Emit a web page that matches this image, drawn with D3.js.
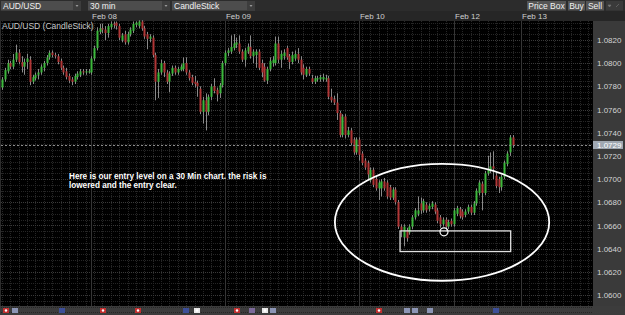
<!DOCTYPE html>
<html><head><meta charset="utf-8">
<script src="https://cdn.jsdelivr.net/npm/d3@7"></script>
<style>html,body{margin:0;padding:0;background:#000;overflow:hidden}svg{display:block}text{font-family:"Liberation Sans",Arial,sans-serif}</style>
</head><body><svg id="c" width="625" height="315"></svg>
<script>
// ---- data (AUD/USD 30 min candles) ----
const open=[1.0779,1.0786,1.0793,1.0800,1.0797,1.0803,1.0809,1.0801,1.0797,1.0801,
1.0803,1.0784,1.0787,1.0790,1.0792,1.0796,1.0800,1.0805,1.0809,1.0807,
1.0806,1.0802,1.0796,1.0793,1.0789,1.0786,1.0784,1.0788,1.0790,1.0793,
1.0792,1.0792,1.0792,1.0804,1.0813,1.0827,1.0830,1.0829,1.0826,1.0831,
1.0834,1.0835,1.0832,1.0820,1.0825,1.0818,1.0825,1.0828,1.0833,1.0832,
1.0836,1.0830,1.0825,1.0821,1.0822,1.0807,1.0784,1.0792,1.0800,1.0792,
1.0784,1.0791,1.0796,1.0792,1.0794,1.0795,1.0800,1.0792,1.0788,1.0784,
1.0783,1.0778,1.0758,1.0768,1.0758,1.0771,1.0780,1.0777,1.0774,1.0781,
1.0800,1.0809,1.0810,1.0813,1.0816,1.0817,1.0810,1.0803,1.0810,1.0814,
1.0806,1.0807,1.0810,1.0800,1.0797,1.0785,1.0795,1.0800,1.0800,1.0817,
1.0803,1.0806,1.0813,1.0806,1.0801,1.0804,1.0808,1.0803,1.0796,1.0790,
1.0795,1.0787,1.0784,1.0786,1.0786,1.0786,1.0786,1.0787,1.0771,1.0769,
1.0766,1.0757,1.0738,1.0754,1.0738,1.0742,1.0734,1.0723,1.0734,1.0722,
1.0716,1.0714,1.0699,1.0708,1.0700,1.0692,1.0692,1.0698,1.0697,1.0693,
1.0684,1.0691,1.0680,1.0659,1.0650,1.0656,1.0654,1.0659,1.0667,1.0670,
1.0679,1.0673,1.0678,1.0674,1.0676,1.0678,1.0673,1.0667,1.0661,1.0665,
1.0659,1.0664,1.0661,1.0670,1.0674,1.0672,1.0669,1.0672,1.0676,1.0671,
1.0679,1.0688,1.0696,1.0688,1.0705,1.0707,1.0711,1.0703,1.0700,1.0693,
1.0702,1.0713,1.0723,1.0736];
const high=[1.0788,1.0796,1.0803,1.0802,1.0808,1.0816,1.0812,1.0806,1.0804,1.0808,
1.0806,1.0790,1.0792,1.0795,1.0799,1.0802,1.0807,1.0811,1.0811,1.0809,
1.0808,1.0804,1.0798,1.0796,1.0791,1.0788,1.0791,1.0793,1.0795,1.0795,
1.0795,1.0795,1.0806,1.0815,1.0831,1.0834,1.0834,1.0832,1.0834,1.0836,
1.0836,1.0836,1.0834,1.0826,1.0828,1.0827,1.0831,1.0836,1.0836,1.0837,
1.0837,1.0832,1.0827,1.0825,1.0824,1.0809,1.0795,1.0803,1.0802,1.0794,
1.0793,1.0798,1.0798,1.0797,1.0799,1.0805,1.0805,1.0794,1.0790,1.0789,
1.0785,1.0780,1.0771,1.0774,1.0773,1.0782,1.0787,1.0779,1.0783,1.0802,
1.0811,1.0813,1.0824,1.0825,1.0822,1.0824,1.0812,1.0813,1.0817,1.0824,
1.0812,1.0812,1.0812,1.0803,1.0800,1.0797,1.0805,1.0806,1.0823,1.0823,
1.0811,1.0812,1.0815,1.0808,1.0810,1.0811,1.0813,1.0806,1.0799,1.0797,
1.0797,1.0790,1.0789,1.0789,1.0790,1.0791,1.0790,1.0789,1.0778,1.0772,
1.0774,1.0759,1.0756,1.0756,1.0745,1.0744,1.0736,1.0736,1.0736,1.0724,
1.0718,1.0716,1.0710,1.0710,1.0703,1.0699,1.0700,1.0701,1.0699,1.0695,
1.0693,1.0693,1.0682,1.0661,1.0661,1.0658,1.0661,1.0669,1.0675,1.0685,
1.0684,1.0683,1.0680,1.0679,1.0681,1.0680,1.0675,1.0669,1.0667,1.0667,
1.0665,1.0666,1.0675,1.0677,1.0676,1.0674,1.0674,1.0678,1.0678,1.0681,
1.0692,1.0699,1.0698,1.0707,1.0720,1.0723,1.0724,1.0706,1.0702,1.0704,
1.0716,1.0724,1.0738,1.0738];
const low=[1.0777,1.0784,1.0791,1.0795,1.0795,1.0801,1.0799,1.0792,1.0790,1.0795,
1.0781,1.0782,1.0785,1.0786,1.0790,1.0793,1.0798,1.0803,1.0805,1.0804,
1.0799,1.0794,1.0790,1.0786,1.0783,1.0781,1.0782,1.0786,1.0788,1.0790,
1.0790,1.0791,1.0790,1.0802,1.0811,1.0825,1.0826,1.0820,1.0822,1.0829,
1.0830,1.0829,1.0820,1.0818,1.0816,1.0816,1.0823,1.0826,1.0831,1.0830,
1.0828,1.0821,1.0812,1.0818,1.0805,1.0768,1.0770,1.0790,1.0788,1.0782,
1.0775,1.0789,1.0790,1.0790,1.0793,1.0793,1.0790,1.0785,1.0781,1.0779,
1.0771,1.0756,1.0748,1.0742,1.0755,1.0768,1.0774,1.0767,1.0770,1.0779,
1.0798,1.0806,1.0808,1.0811,1.0813,1.0808,1.0801,1.0797,1.0808,1.0804,
1.0800,1.0796,1.0794,1.0788,1.0784,1.0782,1.0793,1.0797,1.0798,1.0800,
1.0796,1.0803,1.0803,1.0795,1.0799,1.0802,1.0800,1.0790,1.0786,1.0788,
1.0789,1.0782,1.0782,1.0784,1.0784,1.0784,1.0784,1.0769,1.0766,1.0764,
1.0751,1.0736,1.0736,1.0735,1.0736,1.0729,1.0721,1.0721,1.0716,1.0712,
1.0708,1.0700,1.0697,1.0693,1.0690,1.0682,1.0685,1.0690,1.0683,1.0682,
1.0682,1.0678,1.0657,1.0650,1.0642,1.0646,1.0652,1.0657,1.0665,1.0668,
1.0670,1.0671,1.0671,1.0672,1.0674,1.0670,1.0662,1.0658,1.0659,1.0655,
1.0657,1.0659,1.0659,1.0668,1.0666,1.0665,1.0667,1.0670,1.0669,1.0669,
1.0677,1.0686,1.0673,1.0686,1.0703,1.0705,1.0700,1.0692,1.0688,1.0690,
1.0700,1.0711,1.0720,1.0727];
const close=[1.0786,1.0794,1.0800,1.0797,1.0803,1.0809,1.0801,1.0797,1.0801,1.0804,
1.0784,1.0788,1.0790,1.0792,1.0797,1.0800,1.0805,1.0809,1.0807,1.0806,
1.0801,1.0796,1.0792,1.0788,1.0785,1.0784,1.0789,1.0791,1.0793,1.0792,
1.0793,1.0793,1.0804,1.0813,1.0828,1.0830,1.0829,1.0826,1.0832,1.0834,
1.0833,1.0832,1.0822,1.0824,1.0818,1.0825,1.0829,1.0834,1.0835,1.0836,
1.0830,1.0823,1.0821,1.0823,1.0807,1.0784,1.0792,1.0800,1.0792,1.0784,
1.0791,1.0796,1.0792,1.0795,1.0797,1.0800,1.0792,1.0787,1.0783,1.0782,
1.0780,1.0758,1.0768,1.0758,1.0771,1.0780,1.0776,1.0773,1.0781,1.0800,
1.0809,1.0811,1.0814,1.0817,1.0818,1.0810,1.0803,1.0811,1.0814,1.0806,
1.0810,1.0810,1.0796,1.0792,1.0785,1.0795,1.0802,1.0803,1.0817,1.0803,
1.0808,1.0809,1.0805,1.0801,1.0807,1.0808,1.0803,1.0792,1.0790,1.0795,
1.0791,1.0784,1.0787,1.0787,1.0788,1.0788,1.0787,1.0771,1.0768,1.0766,
1.0757,1.0738,1.0754,1.0738,1.0742,1.0731,1.0723,1.0734,1.0721,1.0714,
1.0710,1.0704,1.0708,1.0695,1.0692,1.0697,1.0698,1.0692,1.0685,1.0684,
1.0691,1.0680,1.0659,1.0656,1.0659,1.0649,1.0659,1.0667,1.0673,1.0673,
1.0673,1.0681,1.0673,1.0677,1.0679,1.0672,1.0664,1.0661,1.0665,1.0659,
1.0663,1.0661,1.0673,1.0675,1.0668,1.0667,1.0672,1.0676,1.0671,1.0679,
1.0690,1.0697,1.0688,1.0705,1.0708,1.0711,1.0709,1.0694,1.0693,1.0702,
1.0714,1.0722,1.0736,1.0729];
const priceTicks=[1.0600,1.0620,1.0640,1.0660,1.0680,1.0700,1.0720,1.0740,1.0760,1.0780,1.0800,1.0820];
const dayLabels=["Feb 08","Feb 09","Feb 10","Feb 12","Feb 13"];
const dayIndex=[31.9,79.9,127.9,162,186];
const lastPrice=1.0729;
const noteLines=["Here is our entry level on a 30 Min chart. the risk is","lowered and the entry clear."];
const eventIdx=[1.3,4.5,21.5,36.2,48.7,66,70,84.2,89.6,94.3,97.1,135.1,145.2,148,153.4,177];
const eventType=["r","us","au","r","r","au","jp","r","uk","jp","us","r","us","us","us","au"];

// ---- layout ----
const W=625,H=315, L=1, R=593, T=21, B=306;
const svg=d3.select("#c");
const x=d3.scaleLinear().domain([0,211.8]).range([2,593]);
const y=d3.scaleLinear().domain([1.0600,1.0820]).range([295,40]);
const font='"Liberation Sans",Arial,sans-serif';

// backgrounds
svg.append("rect").attr("width",W).attr("height",H).attr("fill","#2c2c2c");
svg.append("rect").attr("x",0).attr("y",11).attr("width",W).attr("height",10).attr("fill","#262626");
svg.append("rect").attr("x",L).attr("y",T).attr("width",R-L).attr("height",B-T).attr("fill","#000");
svg.append("rect").attr("x",R).attr("y",T).attr("width",W-R).attr("height",H-T).attr("fill","#3a3a3a");
svg.append("rect").attr("x",0).attr("y",B).attr("width",W).attr("height",H-B).attr("fill","#3c3c3c");

// grid
const g=svg.append("g");
const minorH=d3.range(1.0585,1.0840,0.0005);
g.selectAll(".mh").data(minorH).join("line").attr("x1",L).attr("x2",R)
 .attr("y1",d=>Math.round(y(d))+0.5).attr("y2",d=>Math.round(y(d))+0.5)
 .attr("stroke","#262626").attr("stroke-dasharray","1,1");
const minorV=d3.range(0,212,3);
g.selectAll(".mv").data(minorV).join("line").attr("y1",T).attr("y2",B)
 .attr("x1",d=>Math.round(x(d))+0.5).attr("x2",d=>Math.round(x(d))+0.5)
 .attr("stroke","#262626").attr("stroke-dasharray","1,1");
g.selectAll(".MH").data(priceTicks).join("line").attr("x1",L).attr("x2",R)
 .attr("y1",d=>Math.round(y(d))+0.5).attr("y2",d=>Math.round(y(d))+0.5)
 .attr("stroke","#3a3a3a").attr("stroke-dasharray","1,1");
g.selectAll(".dv").data(dayIndex).join("line").attr("y1",T).attr("y2",B)
 .attr("x1",d=>Math.round(x(d))+0.5).attr("x2",d=>Math.round(x(d))+0.5)
 .attr("stroke","#353535");

// candles
const data=close.map((c,i)=>({i,o:open[i],h:high[i],l:low[i],c}));
const cg=svg.append("g");
cg.selectAll("line").data(data).join("line")
 .attr("x1",d=>Math.round(x(d.i))+0.5).attr("x2",d=>Math.round(x(d.i))+0.5)
 .attr("y1",d=>y(d.h)).attr("y2",d=>y(d.l)).attr("stroke","#8a8a8a").attr("stroke-width",1);
cg.selectAll("rect").data(data).join("rect")
 .attr("x",d=>Math.round(x(d.i))-0.5).attr("width",2)
 .attr("y",d=>y(Math.max(d.o,d.c))).attr("height",d=>Math.max(1,Math.abs(y(d.o)-y(d.c))))
 .attr("fill",d=>d.c>=d.o?"#3cb83c":"#b03636");

// last price dashed line
svg.append("line").attr("x1",L).attr("x2",R).attr("y1",Math.round(y(lastPrice))+0.5).attr("y2",Math.round(y(lastPrice))+0.5)
 .attr("stroke","#8a8a8a").attr("stroke-dasharray","2,2");

// right axis
const ax=svg.append("g").attr("transform",`translate(${R},0)`)
 .call(d3.axisRight(y).tickValues(priceTicks).tickFormat(d3.format(".4f")).tickSize(0).tickPadding(4));
ax.select(".domain").remove();
ax.selectAll("text").attr("fill","#d4d4d4").style("font-size","8px").style("font-family",font);
const ly=y(lastPrice);
svg.append("rect").attr("x",R).attr("y",ly-4.5).attr("width",30).attr("height",8).attr("fill","#a0a8b2");
svg.append("text").attr("x",R+4).attr("y",ly+2.5).text(d3.format(".4f")(lastPrice))
 .attr("fill","#fff").style("font-size","8px").style("font-family",font);

// date labels
svg.selectAll(".day").data(dayLabels).join("text")
 .attr("x",(d,i)=>x(dayIndex[i])+1).attr("y",19).text(d=>d)
 .attr("fill","#cfcfcf").style("font-size","8px").style("font-family",font);

// toolbar
const tb=svg.append("g");
const boxes=[{x:1,w:80,t:"AUD/USD"},{x:88,w:82,t:"30 min"},{x:172,w:83,t:"CandleStick"}];
boxes.forEach(b=>{
  tb.append("rect").attr("x",b.x).attr("y",1).attr("width",b.w).attr("height",9.5).attr("fill","#4d4d4d");
  tb.append("rect").attr("x",b.x+b.w-8).attr("y",1).attr("width",8).attr("height",9.5).attr("fill","#3d3d3d");
  tb.append("path").attr("d",`M${b.x+b.w-5.5},5 h3 l-1.5,2 z`).attr("fill","#999");
  tb.append("text").attr("x",b.x+2).attr("y",8.8).text(b.t).attr("fill","#f0f0f0").style("font-size","8.5px").style("font-family",font);
});
const btns=[{x:527,w:39,t:"Price Box"},{x:568,w:17,t:"Buy"},{x:586,w:18,t:"Sell"}];
btns.forEach(b=>{
  tb.append("rect").attr("x",b.x).attr("y",1).attr("width",b.w).attr("height",9.5).attr("fill","#555");
  tb.append("text").attr("x",b.x+b.w/2).attr("y",8.8).attr("text-anchor","middle").text(b.t).attr("fill","#f0f0f0").style("font-size","8.5px").style("font-family",font);
});
tb.append("rect").attr("x",606).attr("y",1).attr("width",17).attr("height",9.5).attr("fill","#3a3a3a");
tb.append("path").attr("d","M608,5 h3 l-1.5,2 z M616,7 l3,-3").attr("fill","#777").attr("stroke","#777").attr("stroke-width",0.6);

// chart title
svg.append("text").attr("x",2).attr("y",29).text("AUD/USD (CandleStick)")
 .attr("fill","#c8c8c8").style("font-size","8.5px").style("font-family",font);

// annotations
svg.append("ellipse").attr("cx",x(157.7)).attr("cy",y(1.06627))
 .attr("rx",x(157.7+38.4)-x(157.7)).attr("ry",y(1.06627)-y(1.06627+0.00504))
 .attr("fill","none").attr("stroke","#fff").attr("stroke-width",1.8);
svg.append("rect").attr("x",x(142.65)).attr("y",y(1.06553))
 .attr("width",x(182.3)-x(142.65)).attr("height",y(1.06375)-y(1.06553))
 .attr("fill","none").attr("stroke","#e0e0e0").attr("stroke-width",1.3);
svg.append("circle").attr("cx",x(158.4)).attr("cy",y(1.06545)).attr("r",4)
 .attr("fill","none").attr("stroke","#fff").attr("stroke-width",1.2);
svg.selectAll(".note").data(noteLines).join("text")
 .attr("x",x(24)).attr("y",(d,i)=>y(1.0700)-0.5+i*9.6).text(d=>d)
 .attr("fill","#fff").style("font-size","8.2px").style("font-weight","bold").style("font-family",font);

// event flags
const fcol={r:"#c23030",us:"#8c95b5",au:"#3d4f98",jp:"#e8e8e8",uk:"#7c6a9a"};
const fg=svg.selectAll(".ev").data(eventIdx).join("g").attr("transform",d=>`translate(${Math.round(x(d))-3},308)`);
fg.append("rect").attr("width",6).attr("height",5).attr("fill",(d,i)=>fcol[eventType[i]]);
fg.filter((d,i)=>eventType[i]==="r"||eventType[i]==="jp").append("circle").attr("cx",3).attr("cy",2.5).attr("r",1.2)
 .attr("fill",(d,i)=>"#fff");
</script></body></html>
